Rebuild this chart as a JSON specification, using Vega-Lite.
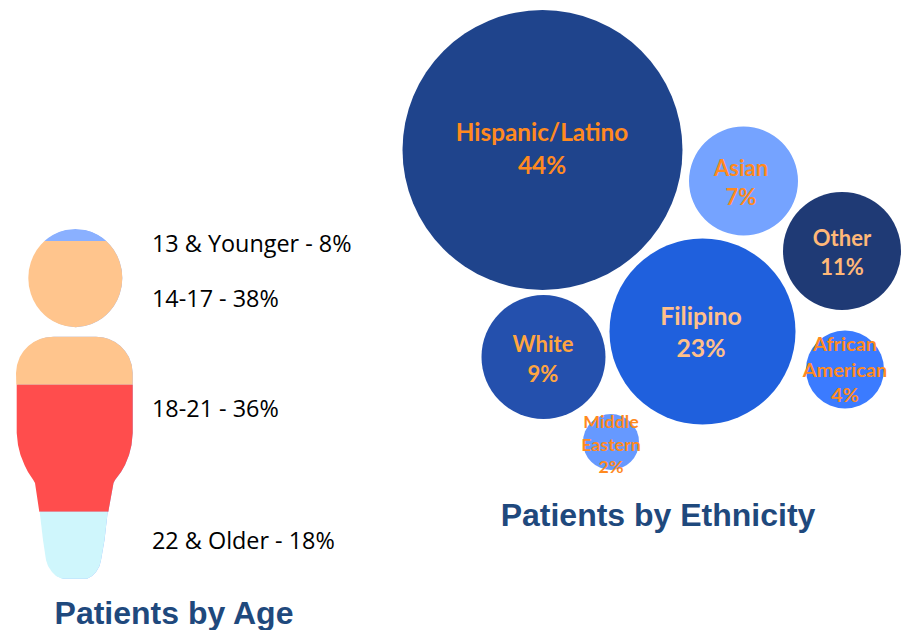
{
"$schema":"https://vega.github.io/schema/vega-lite/v6.json",
"width":907,"height":630,"padding":0,
"autosize":{"type":"fit","contains":"padding"},
"background":"white",
"config":{"view":{"stroke":null}},
"datasets":{
"ethnicity":[
{"ethnicity":"Hispanic/Latino","share":44,"cx":542.5,"cy":150},
{"ethnicity":"Asian","share":7,"cx":743.5,"cy":181},
{"ethnicity":"Other","share":11,"cx":842,"cy":251},
{"ethnicity":"Filipino","share":23,"cx":702.5,"cy":331.5},
{"ethnicity":"White","share":9,"cx":543.5,"cy":357},
{"ethnicity":"African American","share":4,"cx":845,"cy":369.5},
{"ethnicity":"Middle Eastern","share":2,"cx":611,"cy":442}
],
"lines":[
{"ethnicity":"Hispanic/Latino","line":"Hispanic/Latino","tx":542,"ty":134},
{"ethnicity":"Hispanic/Latino","line":"44%","tx":542,"ty":167},
{"ethnicity":"Asian","line":"Asian","tx":741,"ty":169},
{"ethnicity":"Asian","line":"7%","tx":741,"ty":198},
{"ethnicity":"Other","line":"Other","tx":842,"ty":239},
{"ethnicity":"Other","line":"11%","tx":842,"ty":268},
{"ethnicity":"Filipino","line":"Filipino","tx":701,"ty":318},
{"ethnicity":"Filipino","line":"23%","tx":701,"ty":350},
{"ethnicity":"White","line":"White","tx":543,"ty":345},
{"ethnicity":"White","line":"9%","tx":543,"ty":375},
{"ethnicity":"African American","line":"African","tx":845,"ty":345},
{"ethnicity":"African American","line":"American","tx":845,"ty":371},
{"ethnicity":"African American","line":"4%","tx":845,"ty":396},
{"ethnicity":"Middle Eastern","line":"Middle","tx":611,"ty":423},
{"ethnicity":"Middle Eastern","line":"Eastern","tx":611,"ty":446},
{"ethnicity":"Middle Eastern","line":"2%","tx":611,"ty":468}
],
"body":[
{"segment":"cap","band":"13 & Younger","y":229,"left":75.3,"right":75.3},
{"segment":"cap","band":"13 & Younger","y":230,"left":65.9,"right":84.7},
{"segment":"cap","band":"13 & Younger","y":232,"left":59.1,"right":91.5},
{"segment":"cap","band":"13 & Younger","y":235,"left":52.8,"right":97.8},
{"segment":"cap","band":"13 & Younger","y":238,"left":48.1,"right":102.5},
{"segment":"cap","band":"13 & Younger","y":241,"left":44.5,"right":106.1},
{"segment":"head","band":"14-17","y":241,"left":44.5,"right":106.1},
{"segment":"head","band":"14-17","y":245,"left":40.6,"right":110},
{"segment":"head","band":"14-17","y":250,"left":36.7,"right":113.9},
{"segment":"head","band":"14-17","y":256,"left":33.3,"right":117.3},
{"segment":"head","band":"14-17","y":262,"left":30.9,"right":119.7},
{"segment":"head","band":"14-17","y":270,"left":28.9,"right":121.7},
{"segment":"head","band":"14-17","y":278,"left":28.3,"right":122.3},
{"segment":"head","band":"14-17","y":286,"left":28.9,"right":121.7},
{"segment":"head","band":"14-17","y":294,"left":30.9,"right":119.7},
{"segment":"head","band":"14-17","y":300,"left":33.3,"right":117.3},
{"segment":"head","band":"14-17","y":306,"left":36.7,"right":113.9},
{"segment":"head","band":"14-17","y":311,"left":40.6,"right":110},
{"segment":"head","band":"14-17","y":315,"left":44.5,"right":106.1},
{"segment":"head","band":"14-17","y":318,"left":48.1,"right":102.5},
{"segment":"head","band":"14-17","y":321,"left":52.8,"right":97.8},
{"segment":"head","band":"14-17","y":324,"left":59.1,"right":91.5},
{"segment":"head","band":"14-17","y":326,"left":65.9,"right":84.7},
{"segment":"head","band":"14-17","y":327.3,"left":75.3,"right":75.3},
{"segment":"shoulders","band":"14-17","y":336.7,"left":53,"right":96},
{"segment":"shoulders","band":"14-17","y":337.5,"left":45.3,"right":103.4},
{"segment":"shoulders","band":"14-17","y":339,"left":40,"right":108.7},
{"segment":"shoulders","band":"14-17","y":342,"left":33.7,"right":115},
{"segment":"shoulders","band":"14-17","y":346,"left":28.3,"right":120.4},
{"segment":"shoulders","band":"14-17","y":351,"left":23.6,"right":125},
{"segment":"shoulders","band":"14-17","y":357,"left":19.8,"right":128.9},
{"segment":"shoulders","band":"14-17","y":365,"left":17,"right":131.7},
{"segment":"shoulders","band":"14-17","y":373,"left":16,"right":132.7},
{"segment":"shoulders","band":"14-17","y":384.7,"left":16.3,"right":132.7},
{"segment":"torso","band":"18-21","y":384.7,"left":16.7,"right":132.7},
{"segment":"torso","band":"18-21","y":433,"left":16.7,"right":132.7},
{"segment":"torso","band":"18-21","y":445,"left":18,"right":131.5},
{"segment":"torso","band":"18-21","y":455,"left":20.5,"right":129},
{"segment":"torso","band":"18-21","y":465,"left":24.5,"right":125},
{"segment":"torso","band":"18-21","y":472,"left":28,"right":121},
{"segment":"torso","band":"18-21","y":480,"left":33.3,"right":115},
{"segment":"torso","band":"18-21","y":483,"left":35,"right":113.5},
{"segment":"torso","band":"18-21","y":511.7,"left":39.3,"right":108.3},
{"segment":"legs","band":"22 & Older","y":511.7,"left":39.7,"right":107.7},
{"segment":"legs","band":"22 & Older","y":540,"left":43,"right":104.5},
{"segment":"legs","band":"22 & Older","y":560,"left":46,"right":101},
{"segment":"legs","band":"22 & Older","y":566,"left":48,"right":99.5},
{"segment":"legs","band":"22 & Older","y":572,"left":52,"right":96},
{"segment":"legs","band":"22 & Older","y":576,"left":56,"right":92},
{"segment":"legs","band":"22 & Older","y":578.7,"left":62,"right":87}
],
"ageLabels":[
{"text":"13 & Younger - 8%","tx":152,"ty":245},
{"text":"14-17 - 38%","tx":152,"ty":300},
{"text":"18-21 - 36%","tx":152,"ty":410},
{"text":"22 & Older - 18%","tx":152,"ty":542}
],
"titles":[
{"text":"Patients by Age","tx":174,"ty":614},
{"text":"Patients by Ethnicity","tx":658,"ty":516}
]
},
"layer":[
{"data":{"name":"body"},
"mark":{"type":"area","orient":"horizontal","color":"#8AB0FF","xOffset":1},
"encoding":{
"y":{"field":"y","type":"quantitative","scale":{"domain":[630,0],"nice":false,"zero":false},"axis":null},
"x":{"field":"left","type":"quantitative","scale":{"domain":[0,907],"nice":false,"zero":false},"axis":null},
"x2":{"field":"right"},
"detail":{"field":"segment"}
}},
{"data":{"name":"body"},
"mark":{"type":"area","orient":"horizontal"},
"encoding":{
"y":{"field":"y","type":"quantitative"},
"x":{"field":"left","type":"quantitative"},
"x2":{"field":"right"},
"detail":{"field":"segment"},
"color":{"field":"band","type":"nominal","legend":null,"scale":{"domain":["13 & Younger","14-17","18-21","22 & Older"],"range":["#8AB0FF","#FFC58D","#FF4D4D","#CFF6FC"]}}
}},
{"data":{"name":"ethnicity"},
"mark":{"type":"point","shape":"circle","filled":true,"opacity":1,"strokeWidth":0},
"encoding":{
"x":{"field":"cx","type":"quantitative"},
"y":{"field":"cy","type":"quantitative"},
"size":{"field":"ethnicity","type":"nominal","legend":null,"scale":{"type":"ordinal","domain":["Hispanic/Latino","Asian","Other","Filipino","White","African American","Middle Eastern"],"range":[78400,11881,13924,34596,15376,6084,3136]}},
"color":{"field":"ethnicity","type":"nominal","legend":null,"scale":{"domain":["Hispanic/Latino","Asian","Other","Filipino","White","African American","Middle Eastern"],"range":["#1F448C","#75A3FF","#1F3A75","#1F60DD","#2450AD","#3B7BFF","#6699FF"]}}
}},
{"data":{"name":"lines"},
"mark":{"type":"text","font":"Lato","fontWeight":"bold","align":"center","baseline":"middle"},
"encoding":{
"x":{"field":"tx","type":"quantitative"},
"y":{"field":"ty","type":"quantitative"},
"text":{"field":"line"},
"size":{"field":"ethnicity","type":"nominal","legend":null,"scale":{"type":"ordinal","domain":["Hispanic/Latino","Asian","Other","Filipino","White","African American","Middle Eastern"],"range":[24.3,22,22,24.8,22,19.9,17.8]}},
"color":{"field":"ethnicity","type":"nominal","legend":null,"scale":{"domain":["Hispanic/Latino","Asian","Other","Filipino","White","African American","Middle Eastern"],"range":["#FF8A1F","#FF8A1F","#FFB878","#FFC08A","#FFA540","#FF8A1F","#FF8A1F"]}}
}},
{"data":{"name":"ageLabels"},
"mark":{"type":"text","font":"Open Sans","fontSize":23.4,"align":"left","baseline":"middle","color":"#000000"},
"encoding":{
"x":{"field":"tx","type":"quantitative"},
"y":{"field":"ty","type":"quantitative"},
"text":{"field":"text"}
}},
{"data":{"name":"titles"},
"mark":{"type":"text","font":"Liberation Sans","fontWeight":"bold","fontSize":32,"align":"center","baseline":"middle","color":"#1F497D"},
"encoding":{
"x":{"field":"tx","type":"quantitative"},
"y":{"field":"ty","type":"quantitative"},
"text":{"field":"text"}
}}
],
"resolve":{"scale":{"color":"independent","size":"independent"}}
}
